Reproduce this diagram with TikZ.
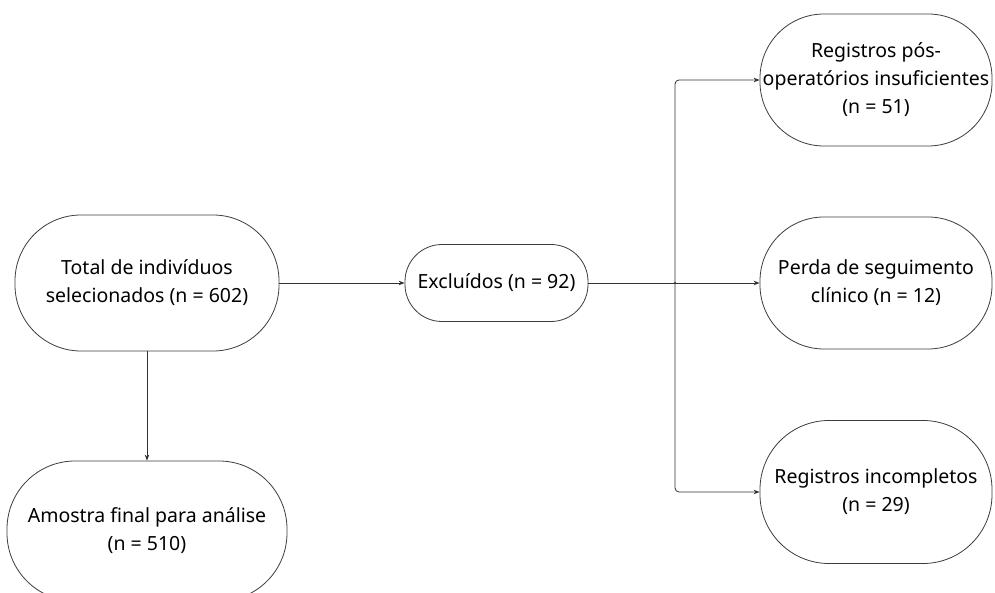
\documentclass[tikz,border=0pt]{standalone}
\usepackage{fontspec}
\setmainfont{Noto Sans}
\usepackage{tikz}
\usetikzlibrary{arrows.meta,positioning,calc}
\definecolor{boxline}{RGB}{60,60,60}
\definecolor{flowline}{RGB}{50,50,50}
\tikzset{
    flowbox/.style={rectangle, draw=boxline, line width=0.8pt, fill=white, align=center, inner sep=0pt, font=\fontsize{19.5}{28}\selectfont},
    flow/.style={draw=flowline, line width=0.8pt},
    flowarr/.style={flow, -{Stealth[length=6pt,width=4.5pt]}},
}
\begin{document}
\begin{tikzpicture}[x=1pt,y=-1pt]
    \useasboundingbox (0,0) rectangle (995,593);
    % left column
    \node[flowbox, minimum width=264pt, minimum height=136pt, rounded corners=66pt] (total) at (147,283) {Total de indivíduos\\selecionados (n = 602)};
    \node[flowbox, minimum width=280pt, minimum height=140pt, rounded corners=68pt] (amostra) at (147,531) {Amostra final para análise\\(n = 510)};
    % excluded
    \node[flowbox, minimum width=183pt, minimum height=77pt, rounded corners=37pt] (excl) at (496.5,283) {Excluídos (n = 92)};
    % reasons
    \node[flowbox, minimum width=232pt, minimum height=132pt, rounded corners=64pt] (posop) at (876,80) {Registros pós-\\operatórios insuficientes\\(n = 51)};
    \node[flowbox, minimum width=232pt, minimum height=132pt, rounded corners=64pt] (perda) at (876,283) {Perda de seguimento\\clínico (n = 12)};
    \node[flowbox, minimum width=232pt, minimum height=143pt, rounded corners=69pt] (incomp) at (876,492) {Registros incompletos\\(n = 29)};
    \coordinate (jn) at (675,283);

    \draw[flowarr] (total) -- (excl);
    \draw[flowarr] (total) -- (amostra);
    \draw[flowarr] (excl) -- (perda);
    \draw[flowarr, rounded corners=4pt] (jn) |- (posop.west);
    \draw[flowarr, rounded corners=4pt] (jn) |- (incomp.west);
    \fill[flowline] (jn) circle (1.2pt);
\end{tikzpicture}
\end{document}
